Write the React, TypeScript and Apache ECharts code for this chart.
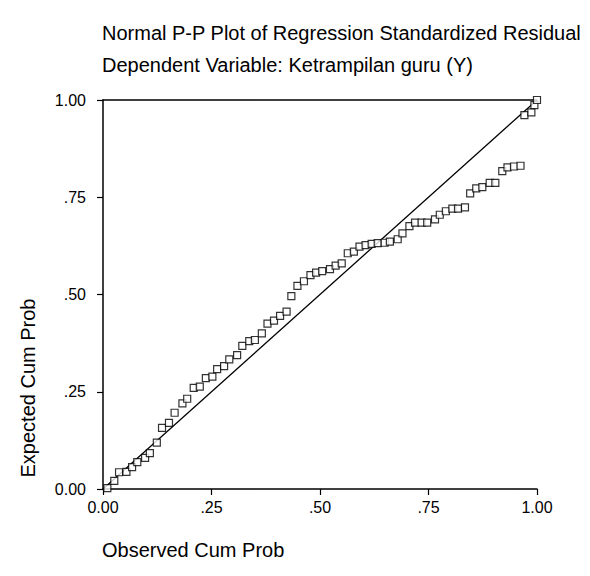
import React, { useEffect, useRef } from "react";
import * as echarts from "echarts";

const titleLines = [
  "Normal P-P Plot of Regression Standardized Residual",
  "Dependent Variable: Ketrampilan guru (Y)",
];
const xAxisName = "Observed Cum Prob";
const yAxisName = "Expected Cum Prob";
const tickValues = [0, 0.25, 0.5, 0.75, 1];
const tickLabels = ["0.00", ".25", ".50", ".75", "1.00"];

const observedCumProb = [
  0.010, 0.026, 0.037, 0.054, 0.067, 0.079, 0.097, 0.108, 0.124, 0.136,
  0.152, 0.165, 0.183, 0.194, 0.209, 0.223, 0.237, 0.252, 0.263, 0.279,
  0.291, 0.309, 0.321, 0.337, 0.350, 0.366, 0.379, 0.394, 0.408, 0.423,
  0.434, 0.448, 0.463, 0.478, 0.491, 0.505, 0.523, 0.536, 0.550, 0.564,
  0.578, 0.591, 0.605, 0.619, 0.633, 0.649, 0.661, 0.679, 0.690, 0.706,
  0.719, 0.734, 0.747, 0.765, 0.776, 0.790, 0.805, 0.818, 0.834, 0.846,
  0.860, 0.874, 0.891, 0.904, 0.920, 0.932, 0.947, 0.962, 0.971, 0.987,
  0.994, 1.000,
];
const expectedCumProb = [
  0.002, 0.021, 0.043, 0.044, 0.056, 0.069, 0.080, 0.092, 0.119, 0.157,
  0.170, 0.196, 0.220, 0.232, 0.260, 0.263, 0.285, 0.289, 0.308, 0.316,
  0.333, 0.344, 0.368, 0.380, 0.383, 0.400, 0.425, 0.433, 0.445, 0.456,
  0.496, 0.522, 0.534, 0.550, 0.556, 0.560, 0.565, 0.574, 0.580, 0.606,
  0.610, 0.623, 0.627, 0.630, 0.632, 0.633, 0.636, 0.642, 0.657, 0.676,
  0.685, 0.685, 0.685, 0.693, 0.705, 0.714, 0.721, 0.721, 0.724, 0.760,
  0.773, 0.776, 0.787, 0.787, 0.817, 0.827, 0.829, 0.831, 0.961, 0.968,
  0.987, 1.000,
];
const referenceLine = [
  [0, 0],
  [1, 1],
];

const FONT = "'Liberation Sans', Arial, Helvetica, sans-serif";

export default function App() {
  const ref = useRef<HTMLDivElement>(null);
  useEffect(() => {
    if (!ref.current) return;
    const chart = echarts.init(ref.current, undefined, { renderer: "svg" });
    const fmt = (v: number) => {
      const i = tickValues.findIndex((t) => Math.abs(t - v) < 1e-9);
      return i >= 0 ? tickLabels[i] : "";
    };
    const left = 103;
    const top = 100;
    const width = 434;
    const height = 389;
    chart.setOption({
      animation: false,
      backgroundColor: "#ffffff",
      grid: { left, top, width, height, containLabel: false },
      xAxis: [
        {
          type: "value",
          min: 0,
          max: 1,
          interval: 0.25,
          position: "bottom",
          axisLine: { show: true, onZero: false, lineStyle: { color: "#000", width: 1.5 } },
          axisTick: { show: true, inside: false, length: 6, lineStyle: { color: "#000", width: 1.2 } },
          axisLabel: { formatter: fmt, color: "#000", fontSize: 16, fontFamily: FONT, margin: 10 },
          splitLine: { show: false },
        },
        {
          type: "value",
          min: 0,
          max: 1,
          position: "top",
          axisLine: { show: true, onZero: false, lineStyle: { color: "#000", width: 1.5 } },
          axisTick: { show: false },
          axisLabel: { show: false },
          splitLine: { show: false },
        },
      ],
      yAxis: {
        type: "value",
        min: 0,
        max: 1,
        interval: 0.25,
        axisLine: { show: true, onZero: false, lineStyle: { color: "#000", width: 1.5 } },
        axisTick: { show: true, inside: false, length: 6, lineStyle: { color: "#000", width: 1.2 } },
        axisLabel: { formatter: fmt, color: "#000", fontSize: 16, fontFamily: FONT, margin: 17 },
        splitLine: { show: false },
      },
      series: [
        {
          type: "line",
          data: referenceLine,
          symbol: "none",
          lineStyle: { color: "#000", width: 1.3 },
          silent: true,
          z: 2,
        },
        {
          type: "scatter",
          data: observedCumProb.map((x, i) => [x, expectedCumProb[i]]),
          symbol: "rect",
          symbolSize: 7,
          itemStyle: { color: "#fff", borderColor: "#000", borderWidth: 1.2 },
          z: 3,
        },
      ],
      graphic: [
        {
          type: "text",
          left: 102,
          top: 23,
          style: { text: titleLines[0], font: `20px ${FONT}`, fill: "#000" },
        },
        {
          type: "text",
          left: 102,
          top: 55,
          style: { text: titleLines[1], font: `20px ${FONT}`, fill: "#000" },
        },
        {
          type: "text",
          left: 102,
          top: 540,
          style: { text: xAxisName, font: `20px ${FONT}`, fill: "#000" },
        },
        {
          type: "text",
          x: 28,
          y: 388,
          rotation: Math.PI / 2,
          style: {
            text: yAxisName,
            font: `20px ${FONT}`,
            fill: "#000",
            align: "center",
            verticalAlign: "middle",
          },
        },
      ],
    });
    return () => chart.dispose();
  }, []);
  return <div ref={ref} style={{ width: 590, height: 576, margin: -8 }} />;
}
